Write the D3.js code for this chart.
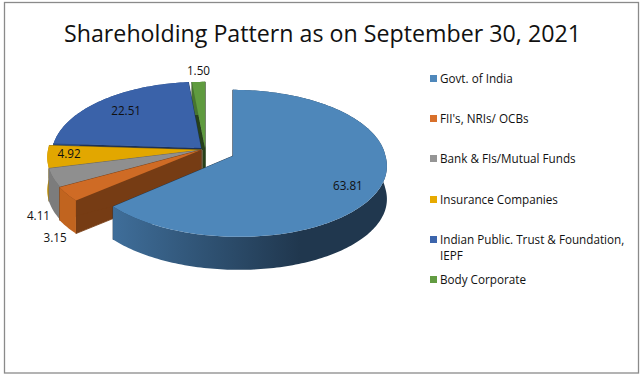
<!DOCTYPE html>
<html>
<head>
<meta charset="utf-8">
<script src="https://cdnjs.cloudflare.com/ajax/libs/d3/7.8.5/d3.min.js"></script>
<style>
  html, body { margin: 0; padding: 0; background: #fff; }
  svg { display: block; }
  text { font-family: "Open Sans", sans-serif; fill: #111; }
</style>
</head>
<body>
<div id="chart"></div>
<script>
// Data
const categories = ["Govt. of India", "FII's, NRIs/ OCBs", "Bank & FIs/Mutual Funds",
                    "Insurance Companies", "Indian Public. Trust & Foundation, IEPF", "Body Corporate"];
const shares = [63.81, 3.15, 4.11, 4.92, 22.51, 1.50];
const labels = ["63.81", "3.15", "4.11", "4.92", "22.51", "1.50"];

// Colours per slice
const topColors = ["#4E87BA", "#CF6B25", "#8F8F8F", "#E2A700", "#3A62A9", "#5F9B3F"];
const rimColors = ["url(#mainRim)", "#C1641F", "#7C7C7C", "#C29000", "#2A4A80", "#47752F"];
const faceColors = ["#1F364D", "#763C14", "#666666", "#8A6A00", "#1C3158", "#26401A"];
const legendColors = ["#4F88BB", "#D8702B", "#959595", "#E7AA00", "#3C65AC", "#629C42"];

// Layout
const width = 642, height = 376;
const cx = 201, cy = 150, rx = 154, ry = 73.5, persp = 0.1, depth = 33;
// how far each slice was pulled out of the pie, in px
const sliceShift = [[32, 6], [0, 0], [1, 0], [1, 0], [0, -2], [4, -2]];
const sliceScale = [0.99, 1, 1, 1, 0.965, 1];
// the pulled out slice leans a little towards the middle at its front
const sliceLean = [6, 0, 0, 0, 0, 0];
// where the value label sits: radius fraction along the slice middle, then a nudge
const labelRadius = [0.83, 1, 1, 0.86, 0.75, 1];
const labelNudge = [[-6, 3], [-12, 44], [-15, 38], [0, -2], [1, -1], [0, -11]];
const legendRows = [79, 119, 159, 200, 240, 280];

const svg = d3.select("#chart").append("svg")
    .attr("width", width)
    .attr("height", height);

svg.append("rect")
    .attr("x", 4.5).attr("y", 2.5)
    .attr("width", 634).attr("height", 370.5)
    .attr("fill", "#fff")
    .attr("stroke", "#8a8a8a")
    .attr("stroke-width", 1.3);

// Horizontal shading on the big slice's rim
const grad = svg.append("defs").append("linearGradient")
    .attr("id", "mainRim")
    .attr("gradientUnits", "userSpaceOnUse")
    .attr("x1", 113).attr("x2", 300).attr("y1", 0).attr("y2", 0);
grad.append("stop").attr("offset", "0%").attr("stop-color", "#3F6E9A");
grad.append("stop").attr("offset", "50%").attr("stop-color", "#2F5273");
grad.append("stop").attr("offset", "100%").attr("stop-color", "#20374E");

svg.append("text")
    .attr("x", 322.5)
    .attr("y", 42)
    .attr("text-anchor", "middle")
    .attr("textLength", 517)
    .attr("lengthAdjust", "spacingAndGlyphs")
    .style("font-size", "24px")
    .text("Shareholding Pattern as on September 30, 2021");

// Tilted pie: points nearer the viewer spread a bit more
function project(angle, r, i, z) {
    const shift = sliceShift[i];
    const u = Math.sin(angle) * r, v = -Math.cos(angle) * r;
    const d = 1 + persp * v;
    return [cx + shift[0] + rx * sliceScale[i] * u * d + sliceLean[i] * Math.max(v, 0),
            cy + shift[1] + ry * v * d + z];
}

const pie = d3.pie().sort(null).value(d => d);
const arcs = pie(shares);
const line = d3.line();

function arcPoints(a, i, z) {
    const n = Math.max(2, Math.ceil((a.endAngle - a.startAngle) / 0.02));
    return d3.range(n + 1).map(k =>
        project(a.startAngle + (a.endAngle - a.startAngle) * k / n, 1, i, z));
}

function cutFace(angle, i) {
    return [project(angle, 0, i, 0), project(angle, 1, i, 0),
            project(angle, 1, i, depth), project(angle, 0, i, depth)];
}

// Painter's order: back slices first, the big one last
const order = [5, 4, 3, 2, 1, 0];
const gPie = svg.append("g");

order.forEach(i => {
    const a = arcs[i];
    const g = gPie.append("g");

    [a.startAngle, a.endAngle].forEach(angle => {
        g.append("path")
            .attr("d", line(cutFace(angle, i)) + "Z")
            .attr("fill", faceColors[i])
            .attr("stroke", faceColors[i])
            .attr("stroke-width", 0.8);
    });

    g.append("path")
        .attr("d", line(arcPoints(a, i, 0).concat(arcPoints(a, i, depth).reverse())) + "Z")
        .attr("fill", rimColors[i]);

    g.append("path")
        .attr("d", line([project(0, 0, i, 0)].concat(arcPoints(a, i, 0))) + "Z")
        .attr("fill", topColors[i]);
});

// Value labels
svg.append("g").selectAll("text")
    .data(arcs)
    .join("text")
    .attr("x", (d, i) => project((d.startAngle + d.endAngle) / 2, labelRadius[i], i, 0)[0] + labelNudge[i][0])
    .attr("y", (d, i) => project((d.startAngle + d.endAngle) / 2, labelRadius[i], i, 0)[1] + labelNudge[i][1])
    .attr("dy", "0.35em")
    .attr("text-anchor", "middle")
    .style("font-size", "11.7px")
    .text((d, i) => labels[i]);

// Legend
const legend = svg.append("g");
categories.forEach((name, i) => {
    legend.append("rect")
        .attr("x", 430).attr("y", legendRows[i] - 4)
        .attr("width", 7).attr("height", 7)
        .attr("fill", legendColors[i]);
    const t = legend.append("text")
        .attr("x", 440).attr("y", legendRows[i] + 4)
        .style("font-size", "11.7px");
    const cut = name.indexOf(", IEPF");
    if (cut < 0) {
        t.text(name);
    } else {
        t.text(name.slice(0, cut + 1));
        legend.append("text")
            .attr("x", 440).attr("y", legendRows[i] + 20)
            .style("font-size", "11.7px")
            .text(name.slice(cut + 2));
    }
});
</script>
</body>
</html>
